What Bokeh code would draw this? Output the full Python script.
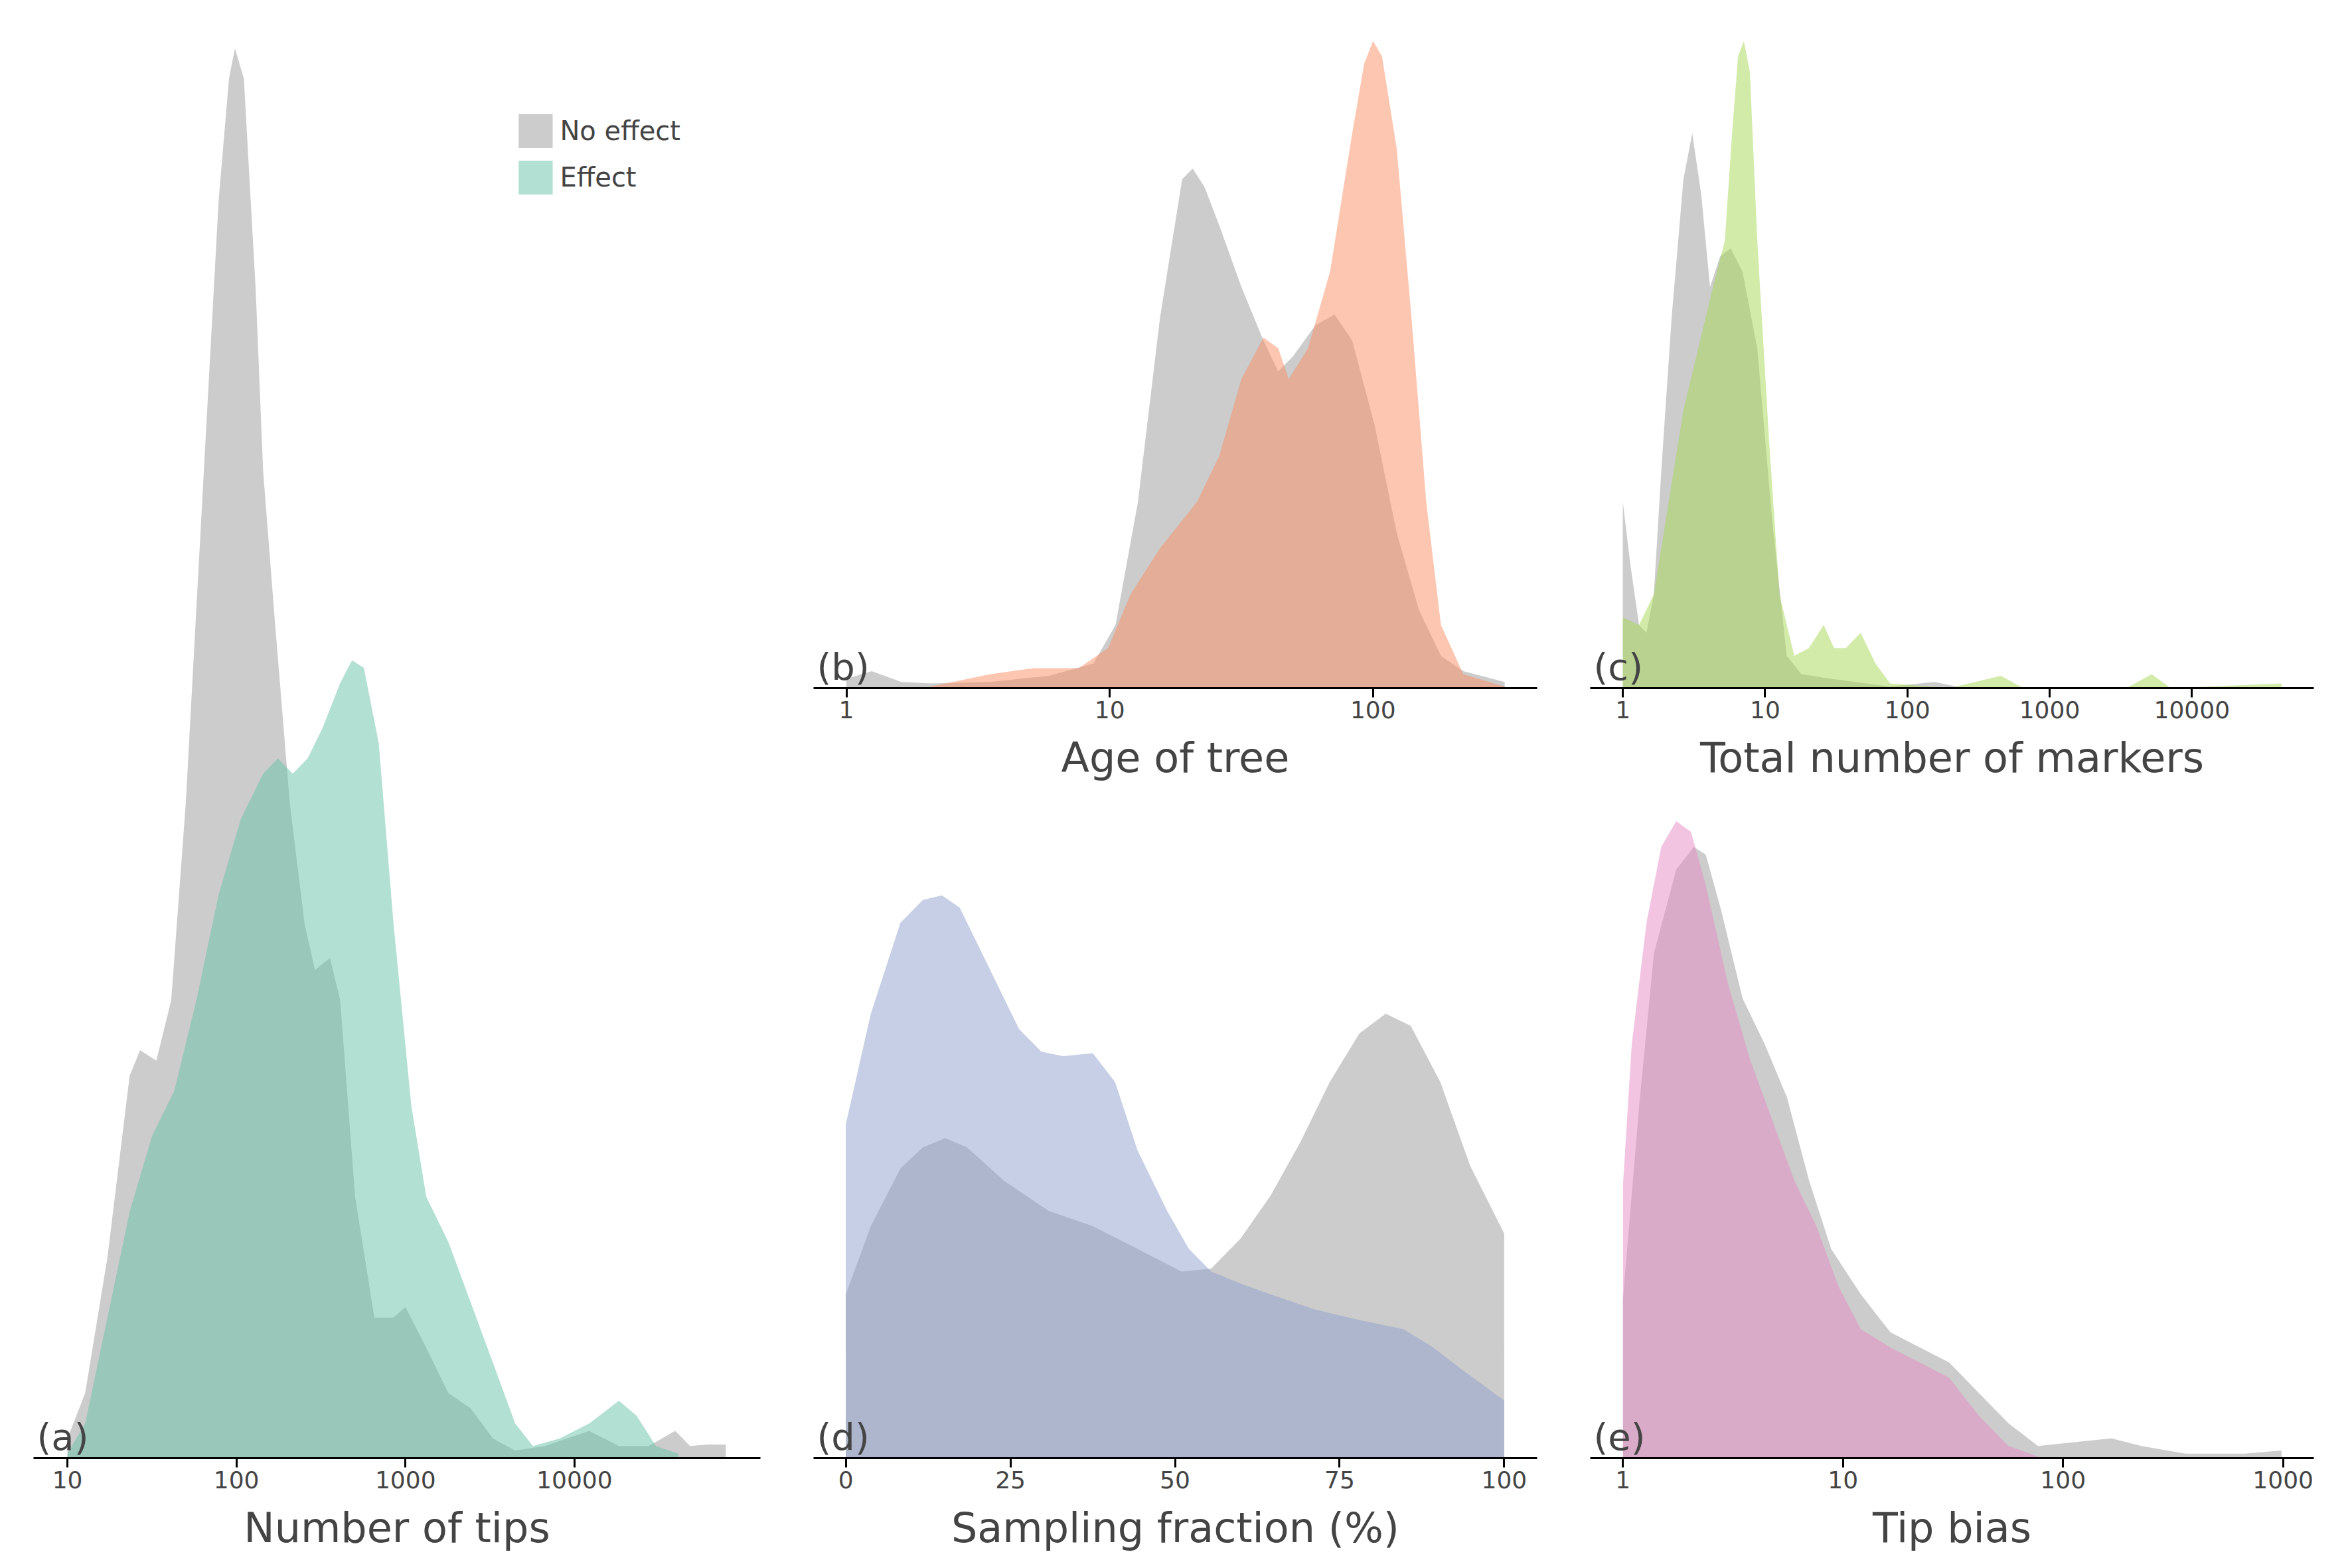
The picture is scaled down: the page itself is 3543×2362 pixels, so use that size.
from bokeh.plotting import figure
from bokeh.layouts import row, column
from bokeh.models import FixedTicker, Label, Legend, LegendItem
from bokeh.embed import file_html
from bokeh.resources import INLINE

GREY = "#999999"

# (a) number of tips, log10 of x and density (arbitrary units)
tips_none_log = [1.0, 1.105, 1.237, 1.368, 1.43, 1.526, 1.614, 1.70, 1.807, 1.895, 1.956, 1.991, 2.044, 2.114, 2.158,
                 2.228, 2.316, 2.404, 2.465, 2.553, 2.614, 2.702, 2.816, 2.93, 3.0, 3.123, 3.254, 3.386, 3.518, 3.649,
                 3.825, 4.088, 4.263, 4.439, 4.596, 4.684, 4.79, 4.895]
tips_none_d = [13, 43, 133, 253, 270, 263, 303, 433, 653, 833, 913, 933, 913, 773, 653, 553, 433, 353, 323, 331, 303,
               173, 93, 93, 100, 73, 43, 33, 13, 5, 8, 18, 8, 8, 18, 8, 9, 9]
tips_eff_log = [1.0, 1.105, 1.237, 1.368, 1.5, 1.632, 1.763, 1.895, 2.026, 2.158, 2.246, 2.333, 2.421, 2.509, 2.614,
                2.684, 2.754, 2.842, 2.93, 3.035, 3.123, 3.254, 3.386, 3.518, 3.649, 3.754, 3.912, 4.088, 4.263, 4.368,
                4.482, 4.614]
tips_eff_d = [3, 23, 93, 163, 213, 243, 303, 373, 423, 453, 463, 453, 463, 483, 513, 528, 523, 473, 353, 233, 173, 143,
              103, 63, 23, 8, 13, 23, 38, 28, 8, 3]

# (b) age of tree
age_none_log = [0, 0.096, 0.208, 0.32, 0.545, 0.77, 0.938, 1.022, 1.107, 1.191, 1.275, 1.315, 1.36, 1.416, 1.5, 1.584,
                1.64, 1.697, 1.781, 1.854, 1.921, 2.006, 2.09, 2.174, 2.258, 2.343, 2.5]
age_none_d = [6, 11, 4, 3, 4, 8, 16, 41, 121, 241, 331, 338, 326, 301, 261, 226, 206, 216, 236, 243, 226, 171, 101, 51,
              21, 11, 4]
age_eff_log = [0.32, 0.545, 0.713, 0.882, 0.994, 1.079, 1.191, 1.331, 1.416, 1.5, 1.584, 1.64, 1.68, 1.753, 1.837,
               1.921, 1.966, 2.0, 2.034, 2.09, 2.146, 2.202, 2.258, 2.343, 2.5]
age_eff_d = [1, 9, 13, 13, 26, 61, 91, 121, 151, 201, 228, 221, 201, 221, 271, 361, 406, 421, 411, 351, 241, 121, 41, 9, 1]

# (c) total number of markers
mk_none_log = [0, 0.052, 0.114, 0.166, 0.218, 0.27, 0.343, 0.426, 0.488, 0.551, 0.613, 0.685, 0.758, 0.841, 0.945,
               1.048, 1.152, 1.256, 1.464, 1.879, 2.191, 2.398, 4.63]
mk_none_d = [121, 81, 41, 36, 61, 141, 241, 331, 361, 321, 261, 281, 286, 271, 221, 111, 21, 9, 6, 1, 4, 0, 0]
mk_eff_log = [0, 0.114, 0.218, 0.322, 0.426, 0.53, 0.634, 0.717, 0.768, 0.810, 0.851, 0.893, 0.945, 1.028, 1.101,
              1.205, 1.308, 1.412, 1.485, 1.568, 1.672, 1.776, 1.879, 2.295, 2.658, 2.814, 3.541, 3.717, 3.852, 4.63]
mk_eff_d = [46, 41, 61, 121, 181, 221, 261, 291, 361, 411, 421, 401, 291, 161, 61, 21, 26, 41, 26, 26, 36, 16, 3, 0, 8,
            0, 0, 9, 0, 3]

# (d) sampling fraction (%)
sf_none_x = [0, 3.8, 8.3, 11.7, 15.1, 18.4, 24.0, 30.8, 37.5, 44.3, 51.0, 55.5, 60.0, 64.5, 69.0, 73.5, 78.0, 82.0,
             85.8, 90.3, 94.8, 100]
sf_none_d = [108, 153, 191, 205, 211, 205, 183, 163, 153, 138, 123, 125, 145, 173, 208, 248, 280, 293, 285, 248, 193, 148]
sf_eff_x = [0, 3.8, 8.3, 11.7, 14.6, 17.3, 21.8, 26.3, 29.7, 33.0, 37.5, 40.9, 44.3, 48.8, 52.1, 55.5, 60.0, 64.5,
            71.2, 78.0, 84.7, 89.2, 93.7, 100]
sf_eff_d = [220, 293, 353, 368, 371, 363, 323, 283, 268, 265, 267, 248, 203, 163, 138, 123, 115, 108, 98, 91, 85, 73,
            58, 38]

# (e) tip bias
tb_none_log = [0, 0.074, 0.141, 0.242, 0.322, 0.376, 0.443, 0.544, 0.644, 0.745, 0.846, 0.946, 1.081, 1.215, 1.349,
               1.483, 1.617, 1.752, 1.886, 2.087, 2.221, 2.356, 2.557, 2.826, 2.993]
tb_none_d = [105, 233, 333, 388, 403, 398, 363, 303, 273, 238, 183, 138, 108, 83, 73, 63, 43, 23, 8, 11, 13, 8, 3, 3, 5]
tb_eff_log = [0, 0.04, 0.107, 0.174, 0.242, 0.309, 0.376, 0.477, 0.577, 0.678, 0.779, 0.879, 0.98, 1.081, 1.215,
              1.349, 1.483, 1.617, 1.752, 1.886]
tb_eff_d = [180, 273, 353, 403, 420, 413, 378, 313, 263, 223, 183, 153, 113, 85, 73, 63, 53, 28, 8, 1]


def panel(tag, xlabel, xr, ymax, ticks, w, h, log=True):
    p = figure(width=w, height=h, x_range=xr, y_range=(0, ymax), output_backend="svg", toolbar_location=None,
               x_axis_type="log" if log else "linear", min_border_left=50, min_border_right=30, min_border_top=45)
    p.outline_line_color = None
    p.grid.visible = False
    p.yaxis.visible = False
    ax = p.xaxis[0]
    ax.ticker = FixedTicker(ticks=ticks)
    ax.major_label_overrides = {t: str(t) for t in ticks}
    ax.minor_tick_line_color = None
    ax.axis_line_width = 3
    ax.major_tick_line_width = 3
    ax.major_tick_in = 0
    ax.major_tick_out = 14
    ax.major_label_text_font_size = "36px"
    ax.major_label_text_font = "DejaVu Sans"
    ax.axis_label = xlabel
    ax.axis_label_text_font_size = "62px"
    ax.axis_label_text_font = "DejaVu Sans"
    ax.axis_label_text_font_style = "normal"
    ax.axis_label_standoff = 20
    p.add_layout(Label(x=5, y=h - 120 if False else 0, x_units="screen", y_units="screen", text=tag,
                       text_font_size="56px", text_font="DejaVu Sans"))
    return p


def area(p, xs, ds, color, log=True):
    xv = [10 ** v for v in xs] if log else xs
    return p.varea(x=xv, y1=0, y2=ds, fill_color=color, fill_alpha=0.5)


pa = figure(width=1175, height=2340, x_range=(6.3, 1.26e5), y_range=(0, 945), x_axis_type="log",
            output_backend="svg", toolbar_location=None, min_border_left=50, min_border_right=20, min_border_top=45)
pa = panel("(a)", "Number of tips", (6.3, 1.26e5), 945, [10, 100, 1000, 10000], 1175, 2340)
r1 = area(pa, tips_none_log, tips_none_d, GREY)
r2 = area(pa, tips_eff_log, tips_eff_d, "#66c2a5")
leg = Legend(items=[LegendItem(label="No effect", renderers=[r1]), LegendItem(label="Effect", renderers=[r2])],
             location="top_right", border_line_color=None, label_text_font_size="40px", label_text_font="DejaVu Sans",
             glyph_width=64, glyph_height=64, spacing=6, margin=120, padding=0)
pa.add_layout(leg)

pb = panel("(b)", "Age of tree", (0.75, 420), 428, [1, 10, 100], 1170, 1180)
area(pb, age_none_log, age_none_d, GREY)
area(pb, age_eff_log, age_eff_d, "#fc8d62")

pc = panel("(c)", "Total number of markers", (0.59, 72000), 428, [1, 10, 100, 1000, 10000], 1170, 1180)
area(pc, mk_none_log, mk_none_d, GREY)
area(pc, mk_eff_log, mk_eff_d, "#a6d854")

pd = panel("(d)", "Sampling fraction (%)", (-4.9, 105), 425, [0, 25, 50, 75, 100], 1170, 1160, log=False)
area(pd, sf_none_x, sf_none_d, GREY, log=False)
area(pd, sf_eff_x, sf_eff_d, "#8da0cb", log=False)

pe = panel("(e)", "Tip bias", (0.71, 1380), 425, [1, 10, 100, 1000], 1170, 1160)
area(pe, tb_none_log, tb_none_d, GREY)
area(pe, tb_eff_log, tb_eff_d, "#e78ac3")

layout = row(pa, column(row(pb, pc), row(pd, pe)))
open("out.html", "w").write(file_html(layout, INLINE))
